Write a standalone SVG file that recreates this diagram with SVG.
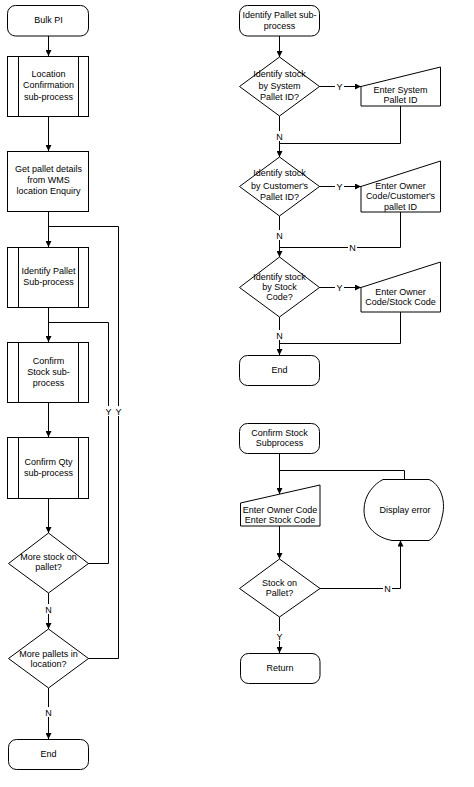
<svg xmlns="http://www.w3.org/2000/svg" width="474" height="787" viewBox="0 0 474 787">
<style>
.s{fill:#fff;stroke:#000;stroke-width:1}
.c{fill:none;stroke:#000;stroke-width:1}
text{font-family:"Liberation Sans",Arial,sans-serif;font-size:9px;fill:#000;text-anchor:middle}
.bg{fill:#fff;stroke:none}
</style>
<defs>
<marker id="a" viewBox="0 0 6 6" refX="6" refY="3" markerWidth="6" markerHeight="6" orient="auto" markerUnits="userSpaceOnUse">
<path d="M0,0 L6,3 L0,6 Z" fill="#000"/>
</marker>
</defs>
<rect width="474" height="787" fill="#fff"/>

<g id="connectors">
<path class="c" d="M48.5,36 V56" marker-end="url(#a)"/>
<path class="c" d="M48.5,116.5 V151" marker-end="url(#a)"/>
<path class="c" d="M48.5,211.5 V247" marker-end="url(#a)"/>
<path class="c" d="M48.5,307.5 V342" marker-end="url(#a)"/>
<path class="c" d="M48.5,402.5 V437" marker-end="url(#a)"/>
<path class="c" d="M48.5,498.5 V533" marker-end="url(#a)"/>
<path class="c" d="M48.5,593 V629" marker-end="url(#a)"/>
<path class="c" d="M48.5,688 V739" marker-end="url(#a)"/>
<path class="c" d="M88,563.5 H108.5 V322.5 H48.5"/>
<path class="c" d="M88,658.5 H118.5 V226.5 H48.5"/>

<path class="c" d="M279.5,36 V57" marker-end="url(#a)"/>
<path class="c" d="M319,86.5 H361" marker-end="url(#a)"/>
<path class="c" d="M279.5,116 V157" marker-end="url(#a)"/>
<path class="c" d="M400.5,106 V143.5 H279.5"/>
<path class="c" d="M319,186.5 H361" marker-end="url(#a)"/>
<path class="c" d="M279.5,216 V257" marker-end="url(#a)"/>
<path class="c" d="M400.5,212 V247.5 H279.5"/>
<path class="c" d="M319,287.5 H361" marker-end="url(#a)"/>
<path class="c" d="M279.5,317 V355" marker-end="url(#a)"/>
<path class="c" d="M400.5,312 V343.5 H279.5"/>

<path class="c" d="M279.5,453 V494" marker-end="url(#a)"/>
<path class="c" d="M404.5,479.5 V470.5 H279.5"/>
<path class="c" d="M279.5,526 V559" marker-end="url(#a)"/>
<path class="c" d="M320,588.5 H400.5 V540.5" marker-end="url(#a)"/>
<path class="c" d="M279.5,617 V653" marker-end="url(#a)"/>

<g id="labels">
<rect class="bg" x="104" y="406" width="9" height="10"/><text x="108.5" y="414.5">Y</text>
<rect class="bg" x="114" y="406" width="9" height="10"/><text x="118.5" y="414.5">Y</text>
<rect class="bg" x="44" y="604" width="9" height="10"/><text x="48.5" y="612.5">N</text>
<rect class="bg" x="44" y="707" width="9" height="10"/><text x="48.5" y="715.5">N</text>
<rect class="bg" x="335" y="81" width="9" height="10"/><text x="339.5" y="89.5">Y</text>
<rect class="bg" x="275" y="131" width="9" height="10"/><text x="279.5" y="139.5">N</text>
<rect class="bg" x="335" y="181" width="9" height="10"/><text x="339.5" y="189.5">Y</text>
<rect class="bg" x="275" y="230" width="9" height="10"/><text x="279.5" y="238.5">N</text>
<rect class="bg" x="348" y="242" width="9" height="10"/><text x="352.5" y="250.5">N</text>
<rect class="bg" x="335" y="282" width="9" height="10"/><text x="339.5" y="290.5">Y</text>
<rect class="bg" x="275" y="330" width="9" height="10"/><text x="279.5" y="338.5">N</text>
<rect class="bg" x="383" y="583" width="9" height="10"/><text x="387.5" y="591.5">N</text>
<rect class="bg" x="275" y="631" width="9" height="10"/><text x="279.5" y="639.5">Y</text>
</g>
</g>

<g id="bulk-pi">
<rect class="s" x="7.5" y="5.5" width="81" height="30.5" rx="8" ry="8"/>
<text x="48.5" y="23">Bulk PI</text>
</g>
<g id="location-confirmation">
<rect class="s" x="7.5" y="56.5" width="81" height="60"/>
<path class="c" d="M18.5,56.5 V116.5 M78.5,56.5 V116.5"/>
<text x="48.5" y="77">Location</text>
<text x="48.5" y="88">Confirmation</text>
<text x="48.5" y="100">sub-process</text>
</g>
<g id="get-pallet-details">
<rect class="s" x="7.5" y="151.5" width="81" height="60"/>
<text x="48.5" y="172">Get pallet details</text>
<text x="48.5" y="183">from WMS</text>
<text x="48.5" y="194">location Enquiry</text>
</g>
<g id="identify-pallet">
<rect class="s" x="7.5" y="247.5" width="81" height="60"/>
<path class="c" d="M18.5,247.5 V307.5 M78.5,247.5 V307.5"/>
<text x="48.5" y="274">Identify Pallet</text>
<text x="48.5" y="285">Sub-process</text>
</g>
<g id="confirm-stock">
<rect class="s" x="7.5" y="342.5" width="81" height="60"/>
<path class="c" d="M18.5,342.5 V402.5 M78.5,342.5 V402.5"/>
<text x="48.5" y="364">Confirm</text>
<text x="48.5" y="375">Stock sub-</text>
<text x="48.5" y="386">process</text>
</g>
<g id="confirm-qty">
<rect class="s" x="7.5" y="437.5" width="81" height="61"/>
<path class="c" d="M18.5,437.5 V498.5 M78.5,437.5 V498.5"/>
<text x="48.5" y="465">Confirm Qty</text>
<text x="48.5" y="476">sub-process</text>
</g>
<g id="more-stock">
<path class="s" d="M48.5,533 L88.5,563.5 L48.5,593 L8.5,563.5 Z"/>
<text x="48.5" y="560">More stock on</text>
<text x="48.5" y="570">pallet?</text>
</g>
<g id="more-pallets">
<path class="s" d="M48.5,629 L88.5,658.5 L48.5,688 L8.5,658.5 Z"/>
<text x="48.5" y="656.5">More pallets in</text>
<text x="48.5" y="666.5">location?</text>
</g>
<g id="end-left">
<rect class="s" x="8.5" y="739.5" width="80" height="30" rx="8" ry="8"/>
<text x="48.5" y="757">End</text>
</g>

<g id="identify-pallet-sub">
<rect class="s" x="239.5" y="5.5" width="80" height="30.5" rx="8" ry="8"/>
<text x="279.5" y="18">Identify Pallet sub-</text>
<text x="279.5" y="29">process</text>
</g>
<g id="by-system-pallet">
<path class="s" d="M279.5,57 L319.5,86.5 L279.5,116 L239.5,86.5 Z"/>
<text x="279.5" y="77">Identify stock</text>
<text x="279.5" y="89">by System</text>
<text x="279.5" y="99.5">Pallet ID?</text>
</g>
<g id="enter-system-pallet">
<path class="s" d="M361,86.5 L440.5,67 V106 H361 Z"/>
<text x="400.5" y="93">Enter System</text>
<text x="400.5" y="103">Pallet ID</text>
</g>
<g id="by-customer-pallet">
<path class="s" d="M279.5,157 L319.5,186.5 L279.5,216 L239.5,186.5 Z"/>
<text x="279.5" y="176">Identify stock</text>
<text x="279.5" y="189">by Customer's</text>
<text x="279.5" y="199.5">Pallet ID?</text>
</g>
<g id="enter-customer-pallet">
<path class="s" d="M361,186.5 L440.5,161 V212 H361 Z"/>
<text x="400.5" y="189">Enter Owner</text>
<text x="400.5" y="199">Code/Customer's</text>
<text x="400.5" y="210">pallet ID</text>
</g>
<g id="by-stock-code">
<path class="s" d="M279.5,257 L319.5,287.5 L279.5,317 L239.5,287.5 Z"/>
<text x="279.5" y="279.5">Identify stock</text>
<text x="279.5" y="289.5">by Stock</text>
<text x="279.5" y="299.5">Code?</text>
</g>
<g id="enter-stock-code">
<path class="s" d="M361,287.5 L440.5,262 V312 H361 Z"/>
<text x="400.5" y="295">Enter Owner</text>
<text x="400.5" y="305">Code/Stock Code</text>
</g>
<g id="end-right">
<rect class="s" x="239.5" y="355.5" width="80" height="30" rx="8" ry="8"/>
<text x="279.5" y="373">End</text>
</g>

<g id="confirm-stock-subprocess">
<rect class="s" x="239.5" y="423.5" width="80" height="30" rx="8" ry="8"/>
<text x="279.5" y="435.5">Confirm Stock</text>
<text x="279.5" y="446">Subprocess</text>
</g>
<g id="enter-owner-stock">
<path class="s" d="M240.5,503 L320,485 V526 H240.5 Z"/>
<text x="280" y="512.5">Enter Owner Code</text>
<text x="280" y="523">Enter Stock Code</text>
</g>
<g id="display-error">
<path class="s" d="M383,479.5 L429,479.5 C440,484 446,500 442.5,515 C440,528 436,536 429,540.5 L392,540.5 C378,538 364,528 364,510 C364,495 374,484 383,479.5 Z"/>
<text x="405" y="513">Display error</text>
</g>
<g id="stock-on-pallet">
<path class="s" d="M279.5,559 L320,588.5 L279.5,617 L239.5,588.5 Z"/>
<text x="279.5" y="586">Stock on</text>
<text x="279.5" y="596">Pallet?</text>
</g>
<g id="return">
<rect class="s" x="240.5" y="653.5" width="79.5" height="30" rx="8" ry="8"/>
<text x="280" y="671">Return</text>
</g>
</svg>
